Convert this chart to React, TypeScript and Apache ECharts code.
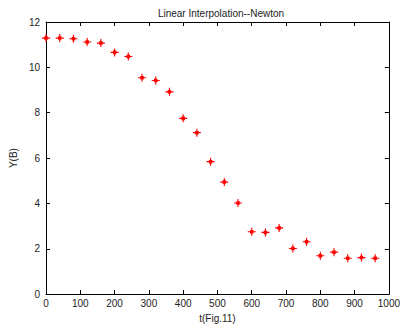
import React, { useEffect, useRef } from "react";
import * as echarts from "echarts";

const tValues = [0, 40, 80, 120, 160, 200, 240, 280, 320, 360, 400, 440, 480, 520, 560, 600, 640, 680, 720, 760, 800, 840, 880, 920, 960];
const yValues = [11.29, 11.29, 11.26, 11.12, 11.07, 10.66, 10.48, 9.54, 9.42, 8.92, 7.75, 7.12, 5.84, 4.94, 4.02, 2.75, 2.72, 2.92, 2.01, 2.31, 1.69, 1.85, 1.58, 1.61, 1.58];
const titleText = "Linear Interpolation--Newton";
const xName = "t(Fig.11)";
const yName = "Y(B)";

// asterisk-like marker: plus with a filled centre
const markerPath = "path://M4.3,0H5.7V2.8H7.2V4.3H10V5.7H7.2V7.2H5.7V10H4.3V7.2H2.8V5.7H0V4.3H2.8V2.8H4.3Z";

export default function App() {
  const ref = useRef<HTMLDivElement>(null);
  useEffect(() => {
    const chart = echarts.init(ref.current!, null, { renderer: "svg" });
    const font = "Liberation Sans, Arial, sans-serif";
    const axisCommon = {
      axisLine: { show: true, onZero: false, lineStyle: { color: "#000", width: 1 } },
      axisTick: { show: true, inside: true, length: 4, lineStyle: { color: "#000" } },
      splitLine: { show: false },
    };
    chart.setOption({
      animation: false,
      backgroundColor: "#fff",
      title: {
        text: titleText,
        left: 216,
        textAlign: "center",
        top: 3,
        textStyle: { fontSize: 10, fontWeight: "normal", color: "#222", fontFamily: font },
      },
      grid: { left: 43, right: 14, top: 22, bottom: 32 },
      xAxis: [
        {
          type: "value",
          min: 0,
          max: 1000,
          interval: 100,
          position: "bottom",
          name: xName,
          nameLocation: "middle",
          nameGap: 18,
          nameTextStyle: { fontSize: 10, color: "#222", fontFamily: font },
          axisLabel: { fontSize: 10, color: "#222", margin: 4, fontFamily: font, formatter: (v: number) => String(v) },
          ...axisCommon,
        },
        {
          type: "value",
          min: 0,
          max: 1000,
          interval: 100,
          position: "top",
          axisLabel: { show: false },
          ...axisCommon,
        },
      ],
      yAxis: [
        {
          type: "value",
          min: 0,
          max: 12,
          interval: 2,
          position: "left",
          name: yName,
          nameLocation: "middle",
          nameGap: 22,
          nameTextStyle: { fontSize: 10, color: "#222", fontFamily: font },
          axisLabel: { fontSize: 10, color: "#222", margin: 6, fontFamily: font },
          ...axisCommon,
        },
        {
          type: "value",
          min: 0,
          max: 12,
          interval: 2,
          position: "right",
          axisLabel: { show: false },
          ...axisCommon,
        },
      ],
      series: [
        {
          type: "scatter",
          data: tValues.map((t, i) => [t, yValues[i]]),
          symbol: markerPath,
          symbolSize: 8,
          itemStyle: { color: "#ff0000", opacity: 1 },
        },
      ],
    });
    return () => chart.dispose();
  }, []);
  return <div ref={ref} style={{ width: 403, height: 328, position: "absolute", left: 0, top: 0 }} />;
}
